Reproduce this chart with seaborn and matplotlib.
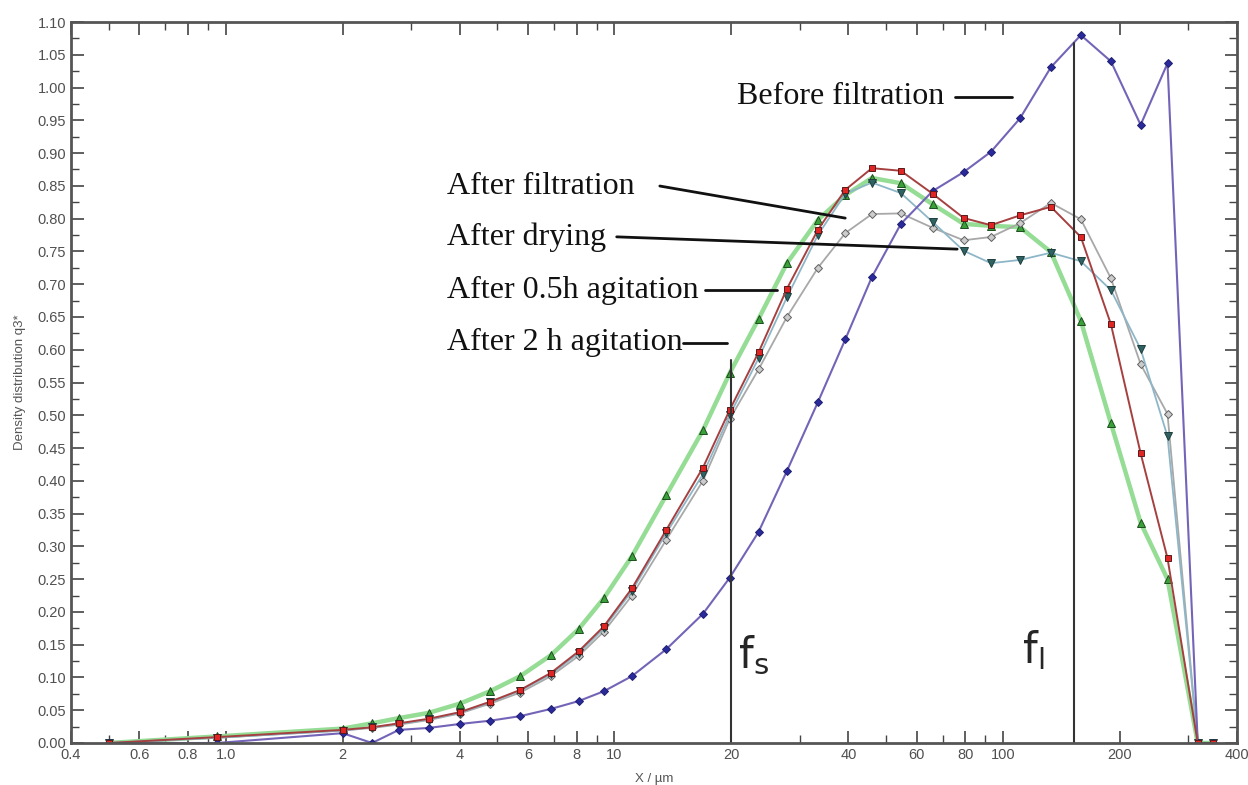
import numpy as np
import pandas as pd
import matplotlib
matplotlib.use("Agg")
import matplotlib.pyplot as plt
import seaborn as sns

# particle size classes (um), shared by all curves
sizes = [0.5, 0.95, 2.0, 2.38, 2.79, 3.33, 4.0, 4.79, 5.73, 6.87, 8.1, 9.4, 11.1,
         13.6, 16.9, 19.8, 23.5, 27.8, 33.4, 39.3, 46.0, 54.6, 65.9, 79.2, 93.1,
         110.6, 132.8, 158.6, 189.5, 226, 265, 317, 346]

# density distribution q3*
before_filtration = [0, 0, 0.015, 0, 0.020, 0.023, 0.029, 0.034, 0.041, 0.052, 0.064, 0.079,
                     0.102, 0.143, 0.197, 0.252, 0.322, 0.415, 0.520, 0.616, 0.711, 0.792,
                     0.842, 0.871, 0.902, 0.953, 1.031, 1.080, 1.040, 0.943, 1.037, 0, 0]
after_filtration = [0, 0.008, 0.019, 0.023, 0.028, 0.035, 0.045, 0.060, 0.077, 0.102, 0.133,
                    0.170, 0.225, 0.310, 0.400, 0.494, 0.570, 0.650, 0.725, 0.778, 0.807,
                    0.808, 0.786, 0.767, 0.772, 0.793, 0.824, 0.799, 0.709, 0.578, 0.502, 0, 0]
after_drying = [0, 0.008, 0.019, 0.024, 0.029, 0.036, 0.046, 0.062, 0.080, 0.105, 0.137,
                0.175, 0.232, 0.320, 0.410, 0.500, 0.587, 0.680, 0.775, 0.838, 0.855,
                0.839, 0.795, 0.751, 0.732, 0.737, 0.748, 0.735, 0.691, 0.601, 0.468, 0, 0]
after_05h = [0, 0.009, 0.020, 0.024, 0.030, 0.037, 0.047, 0.063, 0.081, 0.107, 0.140,
             0.178, 0.236, 0.325, 0.420, 0.508, 0.596, 0.693, 0.783, 0.844, 0.877,
             0.873, 0.838, 0.801, 0.790, 0.805, 0.818, 0.772, 0.639, 0.442, 0.282, 0, 0]
after_2h = [0, 0.010, 0.022, 0.030, 0.038, 0.046, 0.060, 0.079, 0.102, 0.134, 0.174,
            0.221, 0.285, 0.378, 0.477, 0.564, 0.647, 0.732, 0.798, 0.836, 0.862,
            0.854, 0.822, 0.792, 0.789, 0.787, 0.749, 0.644, 0.488, 0.336, 0.250, 0, 0]

fs_size, fs_top = 20, 0.585
fl_size, fl_top = 152, 1.068

x_ticks = [0.4, 0.6, 0.8, 1.0, 2, 4, 6, 8, 10, 20, 40, 60, 80, 100, 200, 400]
x_ticklabels = ["0.4", "0.6", "0.8", "1.0", "2", "4", "6", "8", "10", "20", "40",
                "60", "80", "100", "200", "400"]
x_minor = [0.5, 0.7, 0.9, 3, 5, 7, 9, 30, 50, 70, 90, 300]

sns.set_style("ticks")
plt.rcParams['font.family'] = ['Liberation Sans', 'DejaVu Sans']

fig = plt.figure(figsize=(12.48, 7.85), dpi=100)
ax = fig.add_axes([71 / 1248, 1 - 743 / 785, 1166 / 1248, 721 / 785])

# style for each curve: line colour, line width, marker, face, edge, size
styles = [
    (after_2h, "#95dc95", 3.2, "^", "#3aa03a", "#1d4d1d", 5.5),
    (after_filtration, "#a8a8a8", 1.3, "D", "#cccccc", "#606060", 4.2),
    (after_drying, "#8db7c8", 1.3, "v", "#2f6262", "#1e3e3e", 5.5),
    (before_filtration, "#7464b8", 1.5, "D", "#2a2a9c", "#202070", 4),
    (after_05h, "#a64040", 1.4, "s", "#e02525", "#5a1a1a", 5),
]
for vals, lc, lw, mk, fc, ec, ms in styles:
    sns.lineplot(x=sizes, y=vals, ax=ax, color=lc, linewidth=lw, marker=mk,
                 markersize=ms, markerfacecolor=fc, markeredgecolor=ec,
                 markeredgewidth=0.7, estimator=None, sort=False)

# fs and fl cut sizes
ax.plot([fs_size, fs_size], [0, fs_top], color="#333333", lw=1.5)
ax.plot([fl_size, fl_size], [0, fl_top], color="#333333", lw=1.5)
ax.text(0.572, 0.122, r"$\mathregular{f_s}$", transform=ax.transAxes, fontsize=30,
        ha="left", va="center", family="DejaVu Sans")
ax.text(0.816, 0.129, r"$\mathregular{f_l}$", transform=ax.transAxes, fontsize=30,
        ha="left", va="center", family="DejaVu Sans")

ax.set_xscale("log")
ax.set_xlim(0.4, 400)
ax.set_ylim(0, 1.10)
ax.set_xticks(x_ticks)
ax.set_xticklabels(x_ticklabels)
ax.set_xticks(x_minor, minor=True)
ax.set_yticks(np.arange(0, 1.101, 0.05))
ax.set_yticklabels(["%.2f" % v for v in np.arange(0, 1.101, 0.05)])
ax.set_yticks(np.arange(0.025, 1.1, 0.05), minor=True)
ax.tick_params(axis="both", which="both", direction="in", top=True, right=True,
               colors="#444444", labelcolor="#505050", labelsize=10.5)
ax.tick_params(axis="both", which="major", length=9, width=1.2)
ax.tick_params(axis="both", which="minor", length=6, width=1.0)
for s in ax.spines.values():
    s.set_color("#555555")
    s.set_linewidth(2)

ax.set_xlabel("X / µm", fontsize=9.5, color="#555555", labelpad=8)
ax.set_ylabel("Density distribution q3*", fontsize=9.5, color="#555555", labelpad=8)

# curve labels with leader lines
serif = "Liberation Serif"
labels = [
    ("Before filtration", 0.571, 0.896, [(0.758, 0.896), (0.807, 0.896)]),
    ("After filtration", 0.3225, 0.7725, [(0.505, 0.7725), (0.664, 0.728)]),
    ("After drying", 0.3225, 0.702, [(0.468, 0.702), (0.760, 0.685)]),
    ("After 0.5h agitation", 0.3225, 0.628, [(0.544, 0.628), (0.6055, 0.628)]),
    ("After 2 h agitation", 0.3225, 0.555, [(0.525, 0.555), (0.5626, 0.555)]),
]
for txt, tx, ty, line in labels:
    ax.text(tx, ty, txt, transform=ax.transAxes, fontsize=23, family=serif,
            ha="left", va="center", color="#111111")
    ax.plot([line[0][0], line[1][0]], [line[0][1], line[1][1]], color="#111111",
            lw=2, transform=ax.transAxes)

fig.savefig("out.png", dpi=100)
